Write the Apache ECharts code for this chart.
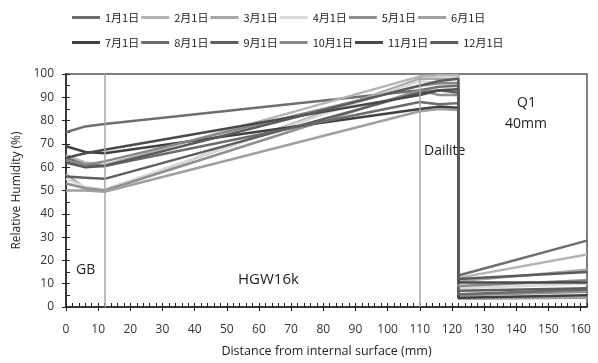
<!DOCTYPE html>
<html><head><meta charset="utf-8">
<script src="https://cdn.jsdelivr.net/npm/echarts@6/dist/echarts.min.js"></script>
<style>html,body{margin:0;padding:0;background:#fff}#c{width:598px;height:363px}</style>
</head><body><div id="c"></div>
<script>
var distances = [0, 6, 12, 110, 116, 122, 122, 162];
var months = ['1月1日','2月1日','3月1日','4月1日','5月1日','6月1日','7月1日','8月1日','9月1日','10月1日','11月1日','12月1日'];
var colors = ['#6e6e6e','#b4b4b4','#a8a8a8','#d9d9d9','#8f8f8f','#a0a0a0','#404040','#6b6b6b','#5f5f5f','#888888','#4a4a4a','#5a5a5a'];
var rh1  = [75, 77.5, 78.5, 93, 94.5, 95, 13.5, 28.5];
var rh2  = [65, 62, 61, 99, 99.5, 99.5, 12.5, 22.5];
var rh3  = [57, 51, 50, 98, 98, 98, 11, 16];
var rh4  = [55, 51.5, 50.5, 97, 96, 96.5, 8, 10];
var rh5  = [53, 51, 50, 93, 91, 91, 5, 6.5];
var rh6  = [50, 50, 49.5, 84, 85, 84.5, 3.5, 4];
var rh7  = [69, 66.5, 66, 85, 86, 85.5, 4, 5];
var rh8  = [64, 61, 60.5, 88, 87, 87.5, 5.5, 7.5];
var rh9  = [56, 55.5, 55, 92, 93, 92, 7, 8];
var rh10 = [63, 61, 62.5, 95, 96, 96, 9, 11.5];
var rh11 = [64, 66, 67.5, 91, 93, 93.5, 10.5, 10.5];
var rh12 = [62, 60, 60.5, 95, 97, 98, 12, 15];
var allRH = [rh1,rh2,rh3,rh4,rh5,rh6,rh7,rh8,rh9,rh10,rh11,rh12];
var xTicks = {min: 0, max: 162, major: 10, minor: 2};
var yTicks = {min: 0, max: 100, major: 10, minor: 5};
var layerBounds = [12, 110];

var chart = echarts.init(document.getElementById('c'));
var series = allRH.map(function (vals, i) {
  return {
    name: months[i], type: 'line', xAxisIndex: 0, yAxisIndex: 0,
    data: vals.map(function (v, j) { return [distances[j], v]; }),
    symbol: 'none', smooth: false,
    lineStyle: {width: 2.5, color: colors[i]}, itemStyle: {color: colors[i]},
    z: 3
  };
});
series.push({
  type: 'line', data: [], xAxisIndex: 0, yAxisIndex: 0, silent: true,
  markLine: {symbol: 'none', silent: true, label: {show: false},
    lineStyle: {color: '#a6a6a6', width: 1.5, type: 'solid'},
    data: layerBounds.map(function (b) { return {xAxis: b}; })}
});
var font = 'Open Sans, Liberation Sans, sans-serif';
var legendText = {fontFamily: 'Noto Sans CJK JP', fontSize: 11, color: '#222', width: 41};
chart.setOption({
  animation: false,
  grid: {left: 66, right: 11, top: 74, bottom: 53, show: true, borderColor: '#555', borderWidth: 1.5},
  legend: [
    {data: months.slice(0, 6), left: 67, top: 7, itemWidth: 28, itemHeight: 3, itemGap: 2, icon: 'rect', textStyle: legendText},
    {data: months.slice(6), left: 67, top: 32, itemWidth: 28, itemHeight: 3, itemGap: 2, icon: 'rect', textStyle: legendText}
  ],
  xAxis: [
    {type: 'value', min: xTicks.min, max: xTicks.max, interval: xTicks.major, position: 'bottom',
     name: 'Distance from internal surface (mm)', nameLocation: 'middle', nameGap: 38,
     nameTextStyle: {fontFamily: font, fontSize: 12.5, color: '#222'},
     axisLine: {show: true, lineStyle: {color: '#222', width: 1.5}},
     axisTick: {show: true, inside: false, length: 4, lineStyle: {color: '#222'}},
     axisLabel: {fontFamily: font, fontSize: 12, color: '#333', margin: 17, showMaxLabel: false},
     splitLine: {show: false}},
    {type: 'value', min: xTicks.min, max: xTicks.max, interval: xTicks.minor, position: 'bottom',
     axisLine: {show: false}, axisTick: {show: true, inside: true, length: 4, lineStyle: {color: '#222'}},
     axisLabel: {show: false}, splitLine: {show: false}}
  ],
  yAxis: [
    {type: 'value', min: yTicks.min, max: yTicks.max, interval: yTicks.major, position: 'left',
     name: 'Relative Humidity (%)', nameLocation: 'middle', nameGap: 43,
     nameTextStyle: {fontFamily: font, fontSize: 12, color: '#222'},
     axisLine: {show: true, lineStyle: {color: '#222', width: 1.5}},
     axisTick: {show: true, inside: false, length: 4, lineStyle: {color: '#222'}},
     axisLabel: {fontFamily: font, fontSize: 12, color: '#333', margin: 12},
     splitLine: {show: false}},
    {type: 'value', min: yTicks.min, max: yTicks.max, interval: yTicks.minor, position: 'left',
     axisLine: {show: false}, axisTick: {show: true, inside: true, length: 4, lineStyle: {color: '#222'}},
     axisLabel: {show: false}, splitLine: {show: false}}
  ],
  graphic: [
    {type: 'text', left: 76, top: 263, style: {text: 'GB', font: '14px ' + font, fill: '#222'}},
    {type: 'text', left: 238, top: 272, style: {text: 'HGW16k', font: '15px ' + font, fill: '#222'}},
    {type: 'text', left: 424, top: 144, style: {text: 'Dailite', font: '14px ' + font, fill: '#222'}},
    {type: 'text', left: 517, top: 96, style: {text: 'Q1', font: '14px ' + font, fill: '#222'}},
    {type: 'text', left: 505, top: 117, style: {text: '40mm', font: '14px ' + font, fill: '#222'}}
  ],
  series: series
});
</script></body></html>
